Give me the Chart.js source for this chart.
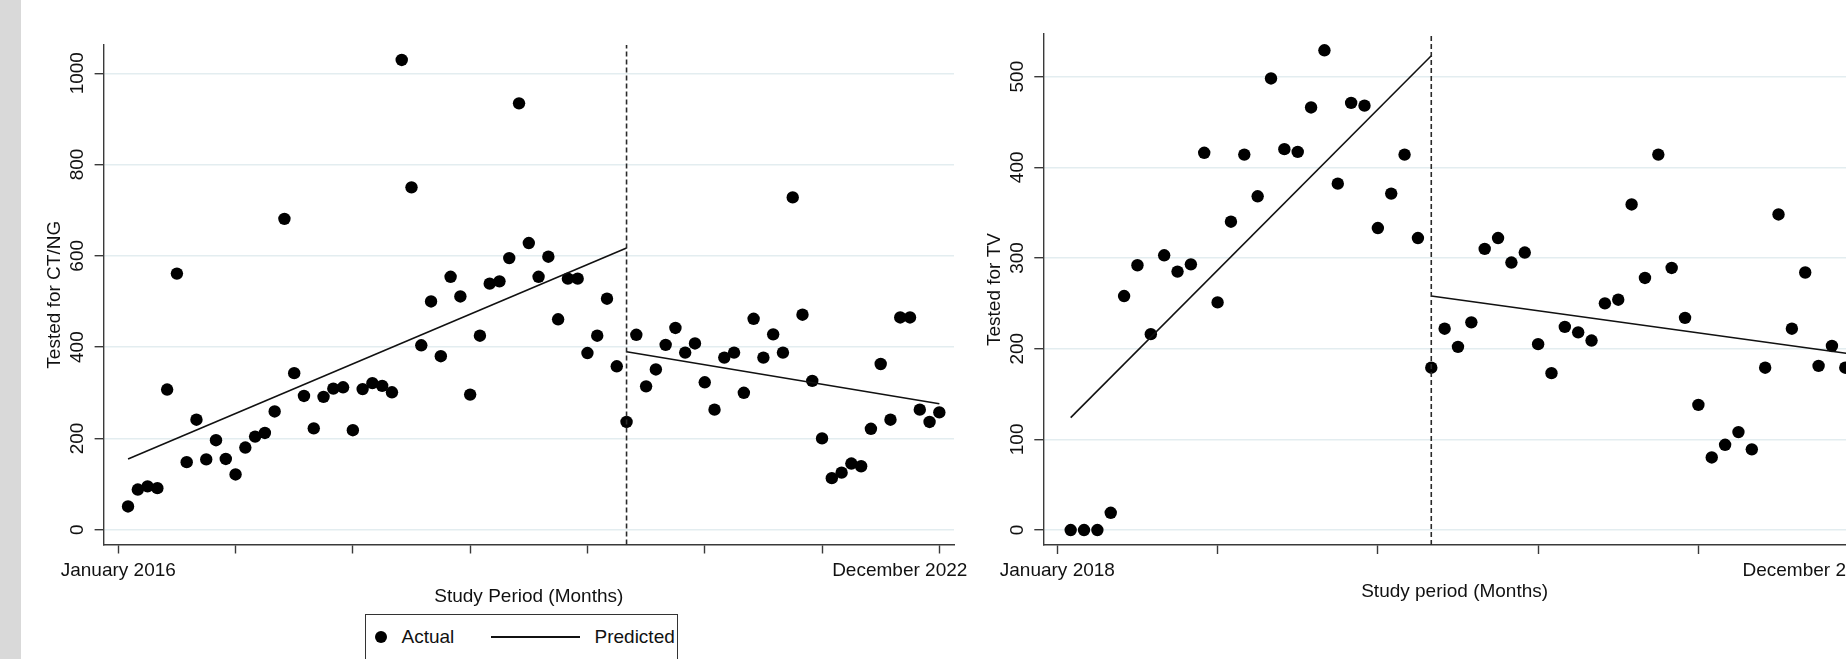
<!DOCTYPE html>
<html>
<head>
<meta charset="utf-8">
<script src="https://cdn.jsdelivr.net/npm/chart.js@4.4.1/dist/chart.umd.min.js"></script>
<style>
  html, body { margin: 0; padding: 0; background: #fff; }
  body { width: 1846px; height: 659px; overflow: hidden; position: relative;
         font-family: "Liberation Sans", Arial, sans-serif; color: #111; }
  #stripe { position: absolute; left: 0; top: 0; width: 21px; height: 659px; background: #d9d9d9; }
  #c1 { position: absolute; left: 21px; top: 0; }
  #c2 { position: absolute; left: 965px; top: 0; }
  .legend { position: absolute; left: 365px; top: 614px; width: 311px; height: 60px;
            border: 1.5px solid #333; background: #fff; }
  .legend .dot { position: absolute; left: 9px; top: 15.6px; width: 12.4px; height: 12.4px;
                 border-radius: 50%; background: #000; }
  .legend .txt { position: absolute; top: 10.5px; line-height: 22px; font-size: 19px; white-space: nowrap; }
  .legend .ln { position: absolute; left: 124.5px; top: 21px; width: 89px; height: 1.6px; background: #111; }
</style>
</head>
<body>
<div id="stripe"></div>
<canvas id="c1" width="964" height="659"></canvas>
<canvas id="c2" width="935" height="659"></canvas>
<div class="legend">
  <div class="dot"></div><span class="txt" style="left:35.5px">Actual</span>
  <div class="ln"></div><span class="txt" style="left:228.5px">Predicted</span>
</div>
<script>
// ---- CT/NG panel (months 1..84, Jan 2016 - Dec 2022) ----
const ctActual = [
  51, 88, 95, 91, 307, 561, 148, 241, 154, 196, 155, 121,
  180, 204, 212, 259, 681, 343, 293, 222, 291, 309, 312, 218,
  308, 321, 315, 301, 1029, 750, 404, 500, 380, 554, 511, 296,
  425, 539, 544, 595, 934, 628, 554, 598, 461, 550, 550, 387,
  425, 506, 358, 236, 427, 314, 351, 405, 442, 388, 408, 323,
  263, 377, 388, 300, 462, 377, 428, 388, 728, 471, 326, 200,
  113, 125, 145, 139, 221, 363, 241, 465, 465, 263, 236, 257
];
const ctBreak = 52;
const ctPredPreMonths = [1, 52];
const ctPredPre = [155, 617];
const ctPredPostMonths = [52, 84];
const ctPredPost = [390, 276];
const ctYTicks = [0, 200, 400, 600, 800, 1000];
const ctXTicks = [0, 12, 24, 36, 48, 60, 72, 84];
const ctXLabels = ['January 2016', '', '', '', '', '', '', 'December 2022'];

// ---- TV panel (months 1..60, Jan 2018 - Dec 2022) ----
const tvActual = [
  0, 0, 0, 19, 258, 292, 216, 303, 285, 293, 416, 251,
  340, 414, 368, 498, 420, 417, 466, 529, 382, 471, 468, 333,
  371, 414, 322, 179, 222, 202, 229, 310, 322, 295, 306, 205,
  173, 224, 218, 209, 250, 254, 359, 278, 414, 289, 234, 138,
  80, 94, 108, 89, 179, 348, 222, 284, 181, 203, 179
];
const tvBreak = 28;
const tvPredPreMonths = [1, 28];
const tvPredPre = [124, 523];
const tvPredPostMonths = [28, 60];
const tvPredPost = [258, 193];
const tvYTicks = [0, 100, 200, 300, 400, 500];
const tvXTicks = [0, 12, 24, 36, 48, 60];
const tvXLabels = ['January 2018', '', '', '', '', 'December 2022'];

const FONT = '19px "Liberation Sans", Arial, sans-serif';
const INK = '#111';
const AXIS = '#3a3a3a';
const GRID = '#e3edf0';

const toPts = (xs, ys) => xs.map((x, i) => ({ x: x, y: ys[i] }));

// stata-like text: rotated y labels, two end labels on x, axis titles
const stataText = {
  id: 'stataText',
  afterDraw(chart, args, o) {
    const { ctx, chartArea: a, scales: { x, y } } = chart;
    ctx.save();
    ctx.fillStyle = INK;
    ctx.font = FONT;
    ctx.textAlign = 'center';
    ctx.textBaseline = 'middle';
    y.ticks.forEach(t => {
      ctx.save();
      ctx.translate(a.left - 26, y.getPixelForValue(t.value));
      ctx.rotate(-Math.PI / 2);
      ctx.fillText(String(t.value), 0, 0);
      ctx.restore();
    });
    ctx.save();
    ctx.translate(a.left - 48.5, (a.top + a.bottom) / 2);
    ctx.rotate(-Math.PI / 2);
    ctx.fillText(o.yTitle, 0, 0);
    ctx.restore();

    const n = o.xLabels.length;
    o.xLabels.forEach((lab, i) => {
      if (!lab) return;
      const px = x.getPixelForValue(o.xTicks[i]);
      if (i === n - 1) {
        ctx.textAlign = 'right';
        ctx.fillText(lab, px + o.lastShift, a.bottom + 26);
        ctx.textAlign = 'center';
      } else {
        ctx.fillText(lab, px, a.bottom + 26);
      }
    });
    ctx.fillText(o.xTitle, (a.left + a.right) / 2, a.bottom + o.titleGap);
    ctx.restore();
  }
};

function makeChart(id, cfg) {
  const months = cfg.actual.map((v, i) => i + 1);
  return new Chart(document.getElementById(id), {
    type: 'scatter',
    data: {
      datasets: [
        {
          label: 'Break',
          data: [{ x: cfg.brk, y: cfg.yMin }, { x: cfg.brk, y: cfg.yMax }],
          showLine: true, borderColor: '#2a2a2a', borderWidth: 1.6, borderDash: [5, 3],
          pointRadius: 0
        },
        {
          label: 'Predicted',
          data: toPts(cfg.preMonths, cfg.pre),
          showLine: true, borderColor: INK, borderWidth: 1.6, pointRadius: 0
        },
        {
          label: 'Predicted post',
          data: toPts(cfg.postMonths, cfg.post),
          showLine: true, borderColor: INK, borderWidth: 1.6, pointRadius: 0
        },
        {
          label: 'Actual',
          data: toPts(months, cfg.actual),
          pointRadius: 6.2, pointHoverRadius: 6.2,
          pointBackgroundColor: '#000', pointBorderWidth: 0
        }
      ]
    },
    options: {
      responsive: false,
      animation: false,
      devicePixelRatio: 1,
      layout: { padding: { left: 0, right: cfg.padRight, top: cfg.padTop, bottom: 0 } },
      plugins: {
        legend: { display: false },
        tooltip: { enabled: false },
        stataText: {
          yTitle: cfg.yTitle, xTitle: cfg.xTitle, xTicks: cfg.xTicks, xLabels: cfg.xLabels,
          lastShift: cfg.lastShift, titleGap: cfg.titleGap
        }
      },
      scales: {
        x: {
          type: 'linear', min: cfg.xMin, max: cfg.xMax,
          afterBuildTicks: s => { s.ticks = cfg.xTicks.map(v => ({ value: v })); },
          afterFit: s => { s.height = cfg.xHeight; },
          ticks: { display: false },
          grid: { drawOnChartArea: false, drawTicks: true, tickLength: 9, tickColor: AXIS, tickWidth: 1.4 },
          border: { display: true, color: AXIS, width: 1.4 }
        },
        y: {
          min: cfg.yMin, max: cfg.yMax,
          afterBuildTicks: s => { s.ticks = cfg.yTicks.map(v => ({ value: v })); },
          afterFit: s => { s.width = cfg.yWidth; },
          ticks: { display: false },
          grid: { color: GRID, lineWidth: 1.4, drawTicks: true, tickLength: 9, tickColor: AXIS, tickWidth: 1.4 },
          border: { display: true, color: AXIS, width: 1.4 }
        }
      }
    },
    plugins: [stataText]
  });
}

makeChart('c1', {
  actual: ctActual, brk: ctBreak,
  preMonths: ctPredPreMonths, pre: ctPredPre, postMonths: ctPredPostMonths, post: ctPredPost,
  yTicks: ctYTicks, xTicks: ctXTicks, xLabels: ctXLabels,
  yTitle: 'Tested for CT/NG', xTitle: 'Study Period (Months)',
  xMin: -1.5, xMax: 85.5, yMin: -32.4, yMax: 1061.8,
  yWidth: 82.6, xHeight: 114.5, padRight: 31, padTop: 45,
  lastShift: 28, titleGap: 52
});

makeChart('c2', {
  actual: tvActual, brk: tvBreak,
  preMonths: tvPredPreMonths, pre: tvPredPre, postMonths: tvPredPostMonths, post: tvPredPost,
  yTicks: tvYTicks, xTicks: tvXTicks, xLabels: tvXLabels,
  yTitle: 'Tested for TV', xTitle: 'Study period (Months)',
  xMin: -1.05, xMax: 60.55, yMin: -16.5, yMax: 547,
  yWidth: 78.3, xHeight: 114, padRight: 34, padTop: 34,
  lastShift: 19, titleGap: 47
});
</script>
</body>
</html>
